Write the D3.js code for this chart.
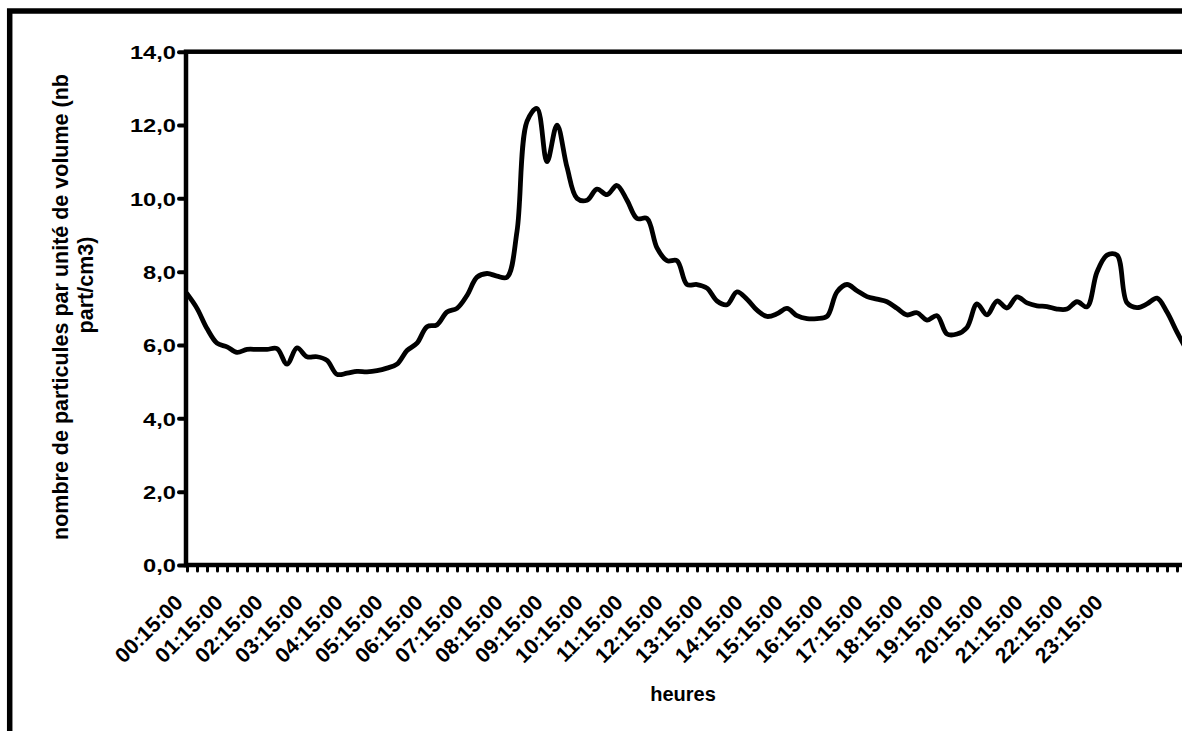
<!DOCTYPE html>
<html>
<head>
<meta charset="utf-8">
<script src="https://cdn.jsdelivr.net/npm/d3@7"></script>
<style>
html,body{margin:0;padding:0;background:#fff;overflow:hidden;}
text{font-family:"Liberation Sans",Arial,sans-serif;font-weight:bold;fill:#000;}
</style>
</head>
<body>
<svg id="chart" width="1182" height="731"></svg>
<script>
// ---- data ----
const startTime = "00:15:00";           // first category, 15-minute steps
const values = [
  7.40, 7.00, 6.45, 6.05, 5.95, 5.80, 5.88, 5.88, 5.88, 5.90,
  5.48, 5.92, 5.68, 5.68, 5.58, 5.20, 5.23, 5.28, 5.27, 5.30,
  5.37, 5.48, 5.85, 6.05, 6.50, 6.55, 6.90, 7.00, 7.35, 7.85,
  7.95, 7.88, 7.85, 9.10, 12.10, 12.45, 11.00, 12.00, 10.85, 10.00,
  9.95, 10.25, 10.10, 10.35, 9.95, 9.45, 9.45, 8.65, 8.30, 8.30,
  7.65, 7.65, 7.55, 7.20, 7.10, 7.45, 7.25, 6.95, 6.78, 6.85,
  7.00, 6.80, 6.72, 6.72, 6.78, 7.45, 7.65, 7.48, 7.32, 7.25,
  7.18, 7.00, 6.82, 6.88, 6.68, 6.80, 6.30, 6.30, 6.48, 7.12,
  6.82, 7.20, 7.01, 7.31, 7.15, 7.07, 7.05, 6.98, 6.98, 7.18,
  7.04, 7.99, 8.45, 8.45, 7.15, 7.02, 7.12, 7.28, 6.90, 6.35,
  5.85
];
const hourLabels = [
  "00:15:00","01:15:00","02:15:00","03:15:00","04:15:00","05:15:00",
  "06:15:00","07:15:00","08:15:00","09:15:00","10:15:00","11:15:00",
  "12:15:00","13:15:00","14:15:00","15:15:00","16:15:00","17:15:00",
  "18:15:00","19:15:00","20:15:00","21:15:00","22:15:00","23:15:00"
];
const yTicks = [0, 2, 4, 6, 8, 10, 12, 14];
const xTitle = "heures";
const yTitleLines = ["nombre de particules par unité de volume (nb", "part/cm3)"];

// categories: time of each 15-minute sample
const categories = values.map((v, i) => {
  const m = 15 + 15 * i;
  const h = Math.floor(m / 60) % 24, mm = m % 60;
  return String(h).padStart(2, "0") + ":" + String(mm).padStart(2, "0") + ":00";
});

// ---- layout ----
const svg = d3.select("#chart");
const plotLeft = 186, plotTop = 51.7, plotBottom = 565, step = 10;
const plotRight = plotLeft + step * (categories.length - 1) + 10;

const x = d3.scalePoint().domain(categories.map((c, i) => i)).range([plotLeft + 1, plotLeft + 1 + step * (categories.length - 1)]);
const y = d3.scaleLinear().domain([0, 14]).range([plotBottom, plotTop]);

svg.append("rect").attr("width", 1182).attr("height", 731).attr("fill", "#fff");

// outer chart frame
svg.append("rect").attr("x", 9.7).attr("y", 11).attr("width", 1400).attr("height", 1000)
  .attr("fill", "none").attr("stroke", "#000").attr("stroke-width", 5.5);

// plot frame
svg.append("rect").attr("x", plotLeft).attr("y", plotTop).attr("width", plotRight - plotLeft).attr("height", plotBottom - plotTop)
  .attr("fill", "none").attr("stroke", "#000").attr("stroke-width", 4.5);

// y axis
const yAxis = d3.axisLeft(y).tickValues(yTicks).tickSize(7).tickPadding(4)
  .tickFormat(d => d3.format(".1f")(d).replace(".", ","));
const gy = svg.append("g").attr("transform", `translate(${plotLeft},0)`).call(yAxis);
gy.select(".domain").remove();
gy.selectAll(".tick line").attr("stroke", "#000").attr("stroke-width", 4).attr("stroke-linecap", "round");
gy.selectAll(".tick text").each(function() {
  const t = d3.select(this);
  t.attr("font-size", 18.5).attr("dy", "0.36em").attr("text-anchor", "end")
   .attr("transform", "translate(-10,0) scale(1.28,1)").attr("x", 0);
});

// x axis minor ticks at every category
const xAxis = d3.axisBottom(x).tickSize(6).tickFormat("");
const gx = svg.append("g").attr("transform", `translate(0,${plotBottom})`).call(xAxis);
gx.select(".domain").remove();
gx.selectAll(".tick line").attr("stroke", "#000").attr("stroke-width", 3).attr("stroke-linecap", "round");

// x labels every 4 categories
svg.append("g").selectAll("text").data(hourLabels).join("text")
  .attr("text-anchor", "end")
  .attr("font-size", 19)
  .attr("transform", (d, i) => `translate(${x(i * 4) - 3},604) rotate(-45) scale(1.12,1.12)`)
  .text(d => d);

// axis titles
svg.append("text").attr("x", 683).attr("y", 701).attr("text-anchor", "middle")
  .attr("font-size", 20).text(xTitle);
svg.append("text").attr("text-anchor", "middle").attr("font-size", 21.5)
  .attr("transform", "translate(68,307) rotate(-90)").text(yTitleLines[0]);
svg.append("text").attr("text-anchor", "middle").attr("font-size", 21.5)
  .attr("transform", "translate(93,285) rotate(-90)").text(yTitleLines[1]);

// series line
const line = d3.line().x((d, i) => x(i)).y(d => y(d)).curve(d3.curveCatmullRom.alpha(0.5));
svg.append("path").datum(values).attr("d", line)
  .attr("fill", "none").attr("stroke", "#000").attr("stroke-width", 4.8)
  .attr("stroke-linejoin", "round").attr("stroke-linecap", "round");
</script>
</body>
</html>
